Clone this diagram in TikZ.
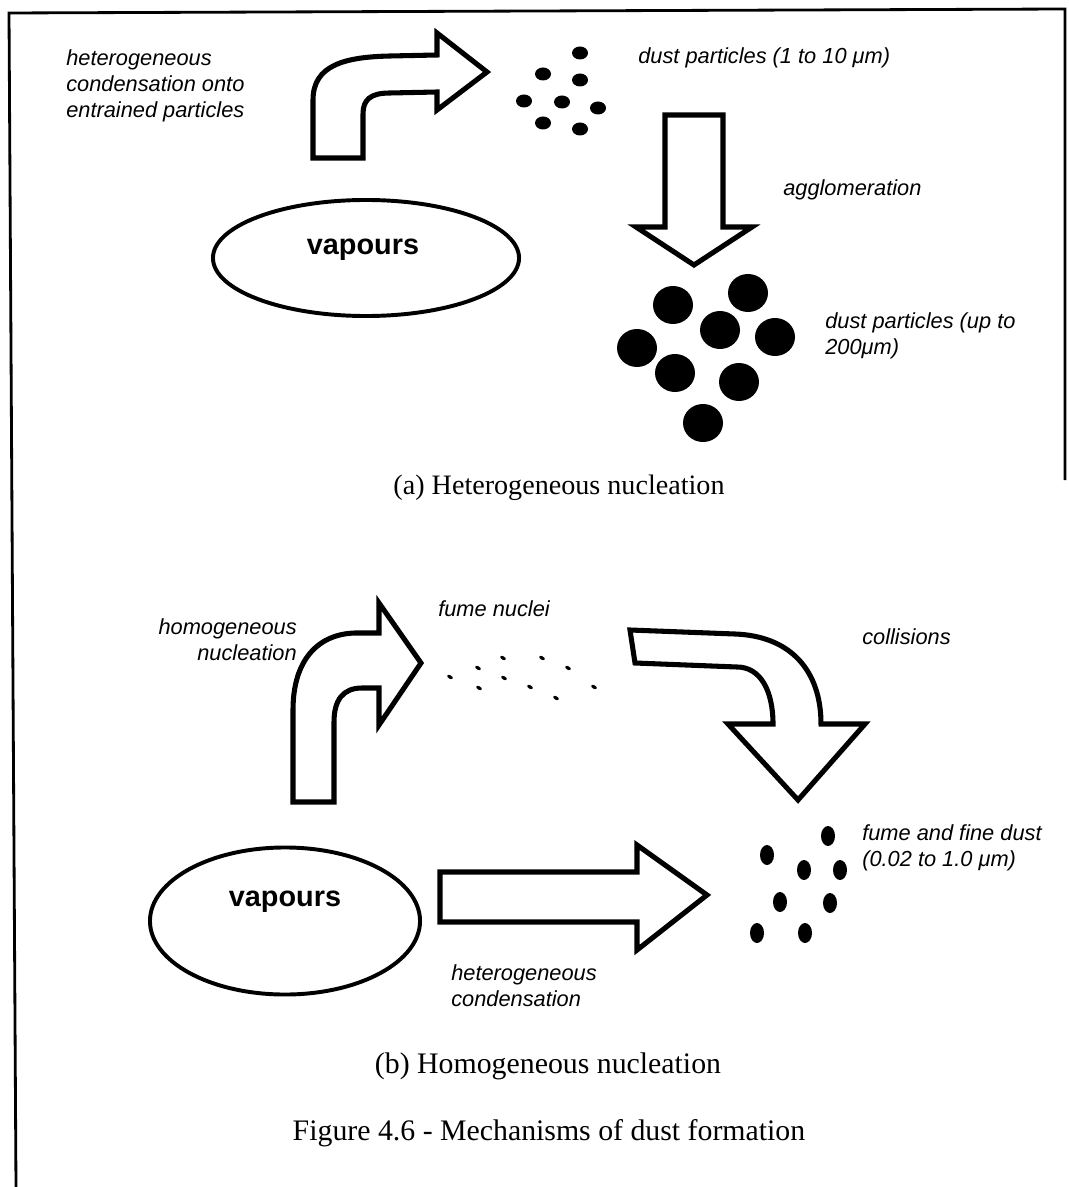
\documentclass[tikz,border=0pt]{standalone}
\usepackage{fontspec}
\setmainfont{Liberation Serif}
\setsansfont{Liberation Sans}
\usetikzlibrary{shapes.geometric}

\begin{document}
\begin{tikzpicture}[x=0.025cm,y=-0.025cm,
	fatarrow/.style={draw=black,line width=3.6pt,fill=white},
	vapour/.style={draw,ellipse,line width=2.8pt,inner sep=0pt},
	vaptext/.style={font=\sffamily\bfseries\fontsize{20.5}{24}\selectfont,inner sep=0pt},
	note/.style={font=\sffamily\itshape\fontsize{15.5}{18.5}\selectfont,inner sep=0pt,align=left},
	caption/.style={font=\fontsize{20}{24}\selectfont,inner sep=0pt},
	bigcaption/.style={font=\fontsize{21.2}{25}\selectfont,inner sep=0pt}]
	\useasboundingbox (0,0) rectangle (1068,1187);
	\draw[line width=2pt] (16,1187) -- (9,13) -- (1065,9) -- (1065,480);

	\node[vapour,minimum width=7.65cm,minimum height=2.9cm] (vapa) at (366,258) {};
	\node[vaptext] (vapatext) at (363,250) {vapours};
	\draw[fatarrow] (313,158) -- (313,100) .. controls (313,65) and (345,57) .. (390,56) -- (437,55) -- (437,33) -- (487,72) -- (437,110) -- (437,92) -- (390,93) .. controls (370,93) and (363,100) .. (363,114) -- (363,158) -- cycle;
	\draw[fatarrow] (665,115) -- (723,115) -- (723,227) -- (752,227) -- (694,265) -- (636,227) -- (665,227) -- cycle;
	\foreach \px/\py in {580/53,543/74,580/80,524/101,562/102,598/108,543/123,580/129}
		\fill (\px,\py) ellipse [x radius=8,y radius=6.5];
	\foreach \px/\py in {673/305,748/293,720/330,775/337,637/348,675/373,739/382,703/423}
		\fill (\px,\py) ellipse [x radius=20,y radius=19];
	\node[note,anchor=west] (hetcond) at (66,86) {heterogeneous\\condensation onto\\entrained particles};
	\node[note,anchor=west] (smalldust) at (638,58) {dust particles (1 to 10 μm)};
	\node[note,anchor=west] (agglo) at (783,190) {agglomeration};
	\node[note,anchor=west] (bigdust) at (825,336) {dust particles (up to\\200μm)};
	\node[caption] (capa) at (559,488) {(a) Heterogeneous nucleation};

	\node[vapour,minimum width=6.75cm,minimum height=3.675cm] (vapb) at (285,921) {};
	\node[vaptext] (vapbtext) at (285,902) {vapours};
	\draw[fatarrow] (293,802) -- (293,710) .. controls (293,660) and (318,634) .. (355,633) -- (379,633) -- (379,603) -- (421,663) -- (379,725) -- (379,688) -- (362,688) .. controls (343,688) and (334,700) .. (334,722) -- (334,802) -- cycle;
	\draw[fatarrow] (630,630) -- (735,634) .. controls (790,636) and (821,670) .. (821,724) -- (865,724) -- (798,800) -- (728,724) -- (773,724) .. controls (773,690) and (760,667) .. (737,667) -- (635,663) -- cycle;
	\draw[fatarrow] (440,872) -- (637,872) -- (637,845) -- (707,895) -- (637,950) -- (637,922) -- (440,922) -- cycle;
	\foreach \px/\py in {450/677,478/668,503/658,542/658,479/688,504/678,530/687,568/668,556/698,594/687}
		\fill[rotate around={-30:(\px,\py)}] (\px,\py) ellipse [x radius=3,y radius=1.8];
	\foreach \px/\py in {828/836,767/855,804/870,840/870,780/902,830/903,757/933,805/933}
		\fill (\px,\py) ellipse [x radius=7,y radius=10];
	\node[note,anchor=east,align=right] (homnuc) at (297,640) {homogeneous\\nucleation};
	\node[note,anchor=west] (nuclei) at (438,609) {fume nuclei};
	\node[note,anchor=west] (coll) at (862,637) {collisions};
	\node[note,anchor=west] (fine) at (862,848) {fume and fine dust\\(0.02 to 1.0 μm)};
	\node[note,anchor=west] (hetcond2) at (451,986) {heterogeneous\\condensation};
	\node[bigcaption] (capb) at (548,1066) {(b) Homogeneous nucleation};
	\node[bigcaption] (figcap) at (549,1133) {Figure 4.6 - Mechanisms of dust formation};
\end{tikzpicture}
\end{document}
